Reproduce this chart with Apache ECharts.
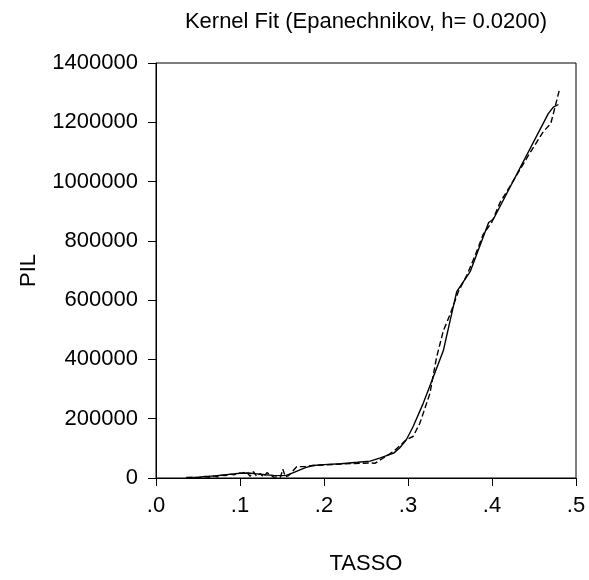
<!DOCTYPE html>
<html>
<head>
<meta charset="utf-8">
<script src="https://cdn.jsdelivr.net/npm/echarts@6/dist/echarts.min.js"></script>
<style>
  html, body { margin: 0; padding: 0; background: #fff; }
  #chart { width: 589px; height: 580px; }
</style>
</head>
<body>
<div id="chart"></div>
<script>
// Kernel fit of PIL on TASSO (solid) and the finer-grained fit (dashed)
const titleText = 'Kernel Fit (Epanechnikov, h= 0.0200)';
const xName = 'TASSO';
const yName = 'PIL';

const xTicks = [0, 0.1, 0.2, 0.3, 0.4, 0.5];
const yTicks = [0, 200000, 400000, 600000, 800000, 1000000, 1200000, 1400000];

const solidX = [0.036, 0.05, 0.06, 0.07, 0.08, 0.09, 0.10, 0.11, 0.12, 0.13, 0.14, 0.15, 0.155, 0.16, 0.17,
  0.178, 0.187, 0.20, 0.22, 0.24, 0.255, 0.267, 0.283, 0.290, 0.298, 0.306, 0.318, 0.330, 0.342, 0.350,
  0.358, 0.374, 0.396, 0.4016, 0.467, 0.473, 0.479];
const solidY = [2000, 3000, 5000, 7000, 10000, 13000, 16000, 17000, 14000, 11000, 9000, 8000, 9000, 14000, 26000,
  35000, 42000, 45000, 48000, 53000, 57000, 68000, 84000, 101000, 129000, 173000, 251000, 340000, 429000, 529000,
  629000, 696000, 862000, 873000, 1229000, 1251000, 1260000];

const dashX = [0.036, 0.045, 0.052, 0.058, 0.063, 0.068, 0.073, 0.078, 0.083, 0.088, 0.093, 0.098, 0.103, 0.108,
  0.112, 0.116, 0.12, 0.124, 0.128, 0.132, 0.136, 0.14, 0.144, 0.148, 0.151, 0.154, 0.158, 0.1675, 0.178, 0.187,
  0.22, 0.255, 0.261, 0.283, 0.298, 0.306, 0.314, 0.326, 0.334, 0.342, 0.350, 0.360, 0.370, 0.380, 0.3897,
  0.3996, 0.4095, 0.4214, 0.445, 0.461, 0.470, 0.475, 0.480];
const dashY = [1000, 2000, 1000, 5000, 2000, 7000, 4000, 9000, 8000, 13000, 11000, 16000, 17000, 20000,
  6000, 21000, 5000, 15000, 3000, 18000, 12000, 3000, 4000, 2000, 30000, 4000, 8000, 38000, 39000, 42000,
  47000, 51000, 50000, 90000, 129000, 140000, 184000, 284000, 407000, 496000, 551000, 629000, 684000, 751000, 823000,
  862000, 929000, 984000, 1096000, 1168000, 1196000, 1251000, 1307000];

const font = 'Liberation Sans, Arial, sans-serif';
const pairs = (xs, ys) => xs.map((x, i) => [x, ys[i]]);

const chart = echarts.init(document.getElementById('chart'), null, { renderer: 'canvas' });
chart.setOption({
  animation: false,
  backgroundColor: '#fff',
  grid: { left: 156, right: 13, top: 63, bottom: 98, show: true, borderColor: '#000', borderWidth: 1, backgroundColor: 'transparent' },
  graphic: [{
    type: 'text', x: 366, y: 11,
    style: { text: titleText, font: '22px ' + font, fill: '#000', align: 'center', verticalAlign: 'top', textAlign: 'center', textVerticalAlign: 'top' }
  }],
  xAxis: {
    type: 'value',
    min: xTicks[0], max: xTicks[xTicks.length - 1], interval: 0.1,
    name: xName, nameLocation: 'middle', nameGap: 75,
    nameTextStyle: { fontSize: 22, color: '#000', fontFamily: font },
    axisLine: { show: true, lineStyle: { color: '#000', width: 1 } },
    axisTick: { show: true, length: 8, lineStyle: { color: '#000', width: 1 } },
    axisLabel: { fontSize: 22, color: '#000', fontFamily: font, margin: 17,
      formatter: v => v.toFixed(1).replace(/^0/, '') },
    splitLine: { show: false }
  },
  yAxis: {
    type: 'value',
    min: yTicks[0], max: yTicks[yTicks.length - 1], interval: 200000,
    name: yName, nameLocation: 'middle', nameGap: 116, nameRotate: 90,
    nameTextStyle: { fontSize: 22, color: '#000', fontFamily: font },
    axisLine: { show: true, lineStyle: { color: '#000', width: 1 } },
    axisTick: { show: true, length: 8, lineStyle: { color: '#000', width: 1 } },
    axisLabel: { fontSize: 22, color: '#000', fontFamily: font, margin: 18,
      formatter: v => String(Math.round(v)) },
    splitLine: { show: false }
  },
  series: [
    { type: 'line', data: pairs(solidX, solidY), showSymbol: false, smooth: false,
      lineStyle: { color: '#000', width: 1.4 } },
    { type: 'line', data: pairs(dashX, dashY), showSymbol: false, smooth: false,
      lineStyle: { color: '#000', width: 1.4, type: [6, 3] } }
  ]
});
</script>
</body>
</html>
